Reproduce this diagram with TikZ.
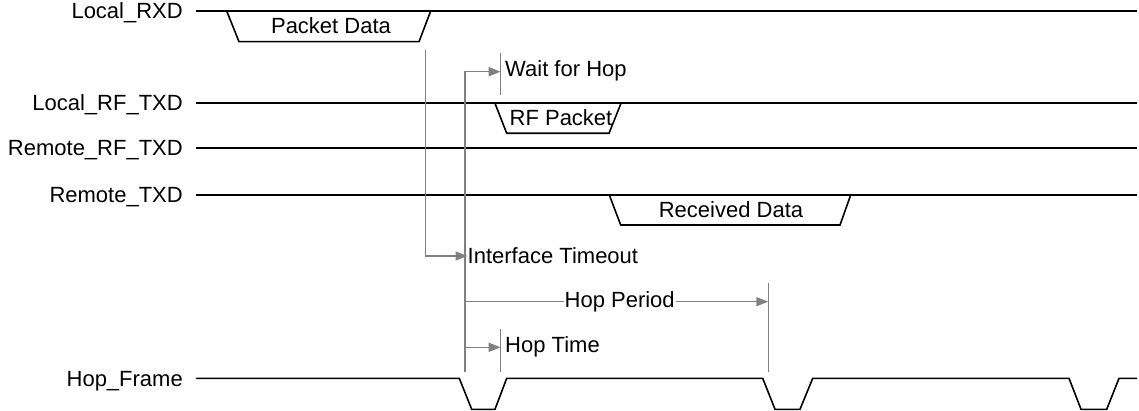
\documentclass[tikz,border=0pt]{standalone}
\usepackage{fontspec}
\setmainfont{Liberation Sans}
\usetikzlibrary{arrows.meta}
\definecolor{ag}{RGB}{128,128,128}
\begin{document}
\begin{tikzpicture}[x=1pt,y=-1pt,
  sig/.style={draw=black,line width=1.6pt,line join=miter},
  ann/.style={draw=ag,line width=1.4pt},
  arr/.style={ann,-{Triangle[length=12pt,width=9pt]}},
  lbl/.style={anchor=east,inner sep=0pt,font=\fontsize{22}{24}\selectfont},
  txt/.style={inner sep=0pt,font=\fontsize{22}{24}\selectfont},
]
\useasboundingbox (0,0) rectangle (1139,411);
% signal names
\node[lbl] (n1) at (183,13) {Local\_RXD};
\node[lbl] (n2) at (183,105) {Local\_RF\_TXD};
\node[lbl] (n3) at (183,150) {Remote\_RF\_TXD};
\node[lbl] (n4) at (183,197) {Remote\_TXD};
\node[lbl] (n5) at (183,381) {Hop\_Frame};
% signal lines
\draw[sig] (196,11) -- (1137,11);
\draw[sig] (226.7,11) -- (239,41.7) -- (419,41.7) -- (430.7,11);
\node[txt] (pd) at (331,26) {Packet Data};
\draw[sig] (196,103.3) -- (1137,103.3);
\draw[sig] (495,103.3) -- (506.7,133.3) -- (609,133.3) -- (621,103.3);
\node[txt] (rfp) at (561,118) {RF Packet};
\draw[sig] (196,148.3) -- (1137,148.3);
\draw[sig] (196,195) -- (1137,195);
\draw[sig] (609.3,195) -- (620.7,225) -- (840,225) -- (850.7,195);
\node[txt] (rd) at (731,210) {Received Data};
\draw[sig] (196,378.3) -- (459.3,378.3) -- (471.7,409.3) -- (495,409.3) -- (506.7,378.3)
  -- (762.7,378.3) -- (775,409.3) -- (800,409.3) -- (812.7,378.3)
  -- (1069,378.3) -- (1081,409.3) -- (1106.7,409.3) -- (1119,378.3) -- (1137,378.3);
% annotation coordinates
\coordinate (a1) at (425.3,50);
\coordinate (a2) at (425.3,256);
\coordinate (b1) at (465,372);
\coordinate (b2) at (465,71.7);
\coordinate (w1) at (500.7,53);
\coordinate (w2) at (500.7,95);
\coordinate (ht1) at (500.7,329.3);
\coordinate (ht2) at (500.7,372);
\coordinate (hp1) at (768.3,283);
\coordinate (hp2) at (768.3,372);
% labels
\node[txt,anchor=west] (wfh) at (505,71) {Wait for Hop};
\node[txt,anchor=west] (it) at (467.5,256) {Interface Timeout};
\node[txt,anchor=west] (ht) at (505,347) {Hop Time};
% annotation lines
\draw[ann] (w1) -- (w2);
\draw[ann] (ht1) -- (ht2);
\draw[ann] (hp1) -- (hp2);
\draw[arr] (a1) -- (a2) -- (it.west);
\draw[arr] (b1) -- (b2) -- (w1 |- b2);
\draw[arr] (b1 |- 0,301.7) -- (hp1 |- 0,301.7)
  node[txt,pos=0.51,fill=white,inner xsep=1pt] (hpl) {Hop Period};
\draw[arr] (b1 |- 0,347.3) -- (ht1 |- 0,347.3);
\end{tikzpicture}
\end{document}
